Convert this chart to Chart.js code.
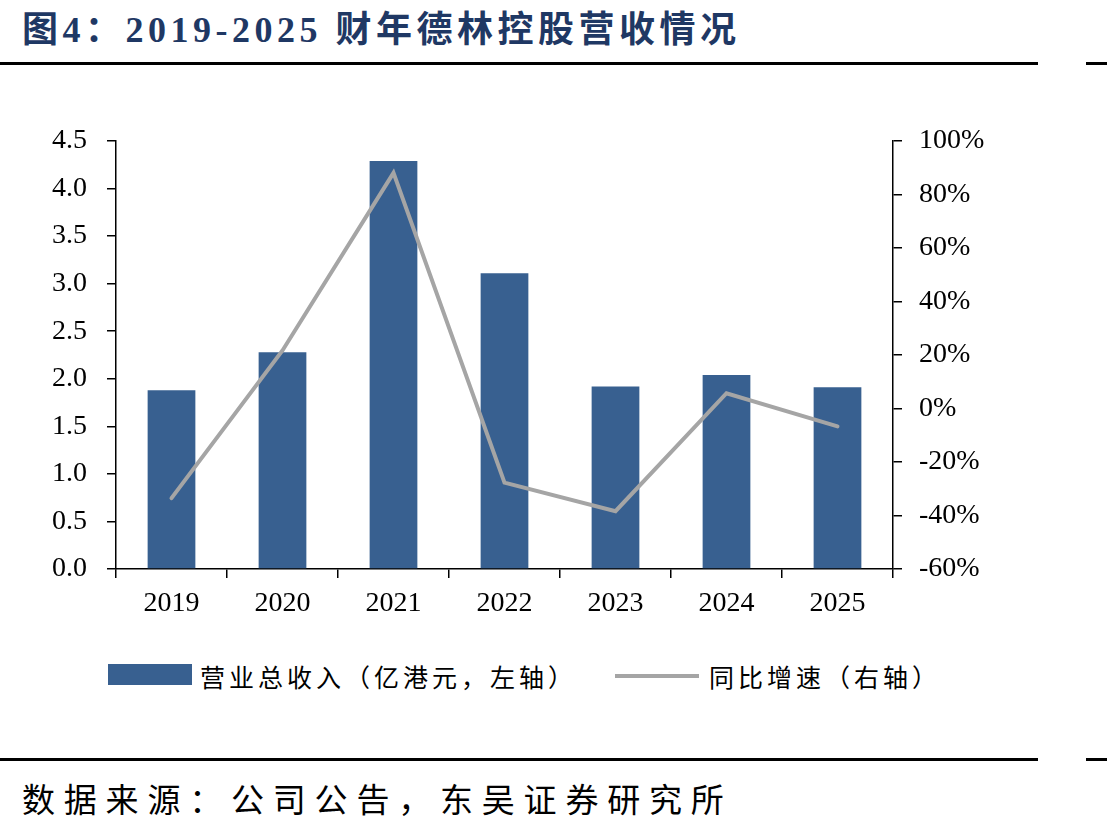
<!DOCTYPE html>
<html>
<head>
<meta charset="utf-8">
<script src="https://cdn.jsdelivr.net/npm/chart.js@4"></script>
<style>
  html, body { margin: 0; padding: 0; background: #fff; }
  body { width: 1107px; height: 830px; position: relative; overflow: hidden;
         font-family: "Liberation Serif", "Noto Sans CJK SC", serif; }
  .title { position: absolute; left: 22px; top: 0px; font-size: 36px; font-weight: bold;
           color: #1f3864; letter-spacing: 4.5px; white-space: nowrap;
           font-family: "Liberation Serif", "Noto Sans CJK SC", serif; }
  .rule { position: absolute; height: 3px; background: #000; }
  .chart-box { position: absolute; left: 0; top: 100px; width: 1107px; height: 540px; }
  .legend { position: absolute; top: 660px; left: 0; width: 1107px; height: 32px;
            font-family: "Noto Sans CJK SC", sans-serif; font-size: 25px; color: #000; }
  .legend .sw { position: absolute; }
  .legend .lbl { position: absolute; top: 0; line-height: 32px; letter-spacing: 4px; white-space: nowrap; }
  .footer { position: absolute; left: 22px; top: 774px; font-size: 33px; letter-spacing: 8.8px;
            font-family: "Noto Sans CJK SC", sans-serif; white-space: nowrap; color: #000; }
</style>
</head>
<body>
<div class="title">图4：2019-2025 财年德林控股营收情况</div>
<div class="rule" style="left:0; top:62px; width:1038px;"></div>
<div class="rule" style="left:1086px; top:62px; width:21px;"></div>

<div class="chart-box"><canvas id="chart"></canvas></div>

<div class="legend">
  <div class="sw" style="left:108px; top:4px; width:84px; height:21px; background:#386090;"></div>
  <div class="lbl" style="left:200px;">营业总收入（亿港元，左轴）</div>
  <div class="sw" style="left:615px; top:14px; width:84px; height:4px; background:#a5a5a5;"></div>
  <div class="lbl" style="left:709px;">同比增速（右轴）</div>
</div>

<div class="rule" style="left:0; top:758px; width:1038px;"></div>
<div class="rule" style="left:1086px; top:758px; width:21px;"></div>
<div class="footer">数据来源：公司公告，东吴证券研究所</div>

<script>
// 财年
const years = ['2019', '2020', '2021', '2022', '2023', '2024', '2025'];
// 营业总收入（亿港元）
const revenue = [1.88, 2.28, 4.29, 3.11, 1.92, 2.04, 1.91];
// 同比增速（%）
const growth = [-33.5, 21.7, 88.1, -27.7, -38.4, 5.7, -6.7];

const revenueLabel = '营业总收入（亿港元，左轴）';
const growthLabel = '同比增速（右轴）';

const TICK_FONT = { family: "'Times New Roman', 'Liberation Serif', serif", size: 28 };

const axisBase = {
  border: { display: true, color: '#000', width: 1.5 },
  grid: { drawOnChartArea: false, drawTicks: true, tickLength: 9, color: '#000', lineWidth: 1.5 },
};

new Chart(document.getElementById('chart'), {
  data: {
    labels: years,
    datasets: [
      {
        type: 'line',
        label: growthLabel,
        data: growth,
        yAxisID: 'yR',
        borderColor: '#a5a5a5',
        borderWidth: 4,
        pointRadius: 0,
        tension: 0,
        borderCapStyle: 'round',
        order: 0,
      },
      {
        type: 'bar',
        label: revenueLabel,
        data: revenue,
        yAxisID: 'yL',
        backgroundColor: '#386090',
        borderWidth: 0,
        categoryPercentage: 1,
        barPercentage: 0.43,
        order: 1,
      },
    ],
  },
  options: {
    responsive: true,
    maintainAspectRatio: false,
    animation: false,
    devicePixelRatio: 1,
    layout: { padding: { top: 41, left: 0, right: 0, bottom: 0 } },
    plugins: { legend: { display: false }, tooltip: { enabled: false } },
    scales: {
      x: {
        ...axisBase,
        offset: true,
        grid: { ...axisBase.grid, offset: true },
        ticks: { color: '#000', font: TICK_FONT, padding: 9, maxRotation: 0 },
        afterFit: s => { s.height = 71; },
      },
      yL: {
        ...axisBase,
        position: 'left',
        min: 0,
        max: 4.5,
        ticks: {
          stepSize: 0.5,
          color: '#000',
          font: TICK_FONT,
          padding: 20,
          callback: v => Number(v).toFixed(1),
        },
        afterFit: s => { s.width = 116; },
      },
      yR: {
        ...axisBase,
        position: 'right',
        min: -60,
        max: 100,
        ticks: {
          stepSize: 20,
          color: '#000',
          font: TICK_FONT,
          padding: 17,
          callback: v => Math.round(v) + '%',
        },
        afterFit: s => { s.width = 214; },
      },
    },
  },
});
</script>
</body>
</html>
